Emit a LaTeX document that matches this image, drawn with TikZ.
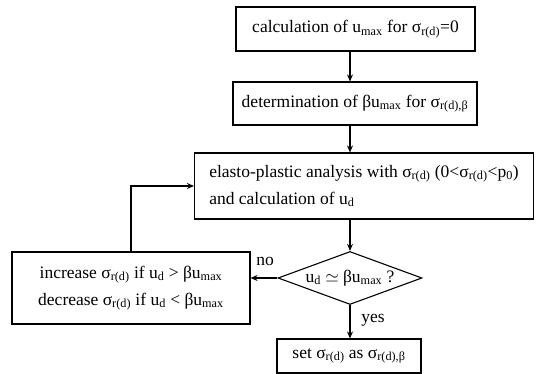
\documentclass[tikz,border=0pt]{standalone}
\usepackage{fontspec}
\setmainfont{Liberation Serif}
\usepackage{tikz}
\usetikzlibrary{positioning,arrows.meta,shapes.geometric}
\newcommand{\sbs}[1]{\textsubscript{#1}}
\newcommand{\sig}{σ\sbs{r(d)}}
\tikzset{
  stepbox/.style = {draw, line width=1.1pt, align=center, inner sep=3pt,
                    font=\fontsize{17.5}{27}\selectfont},
  test/.style    = {draw, line width=1.1pt, diamond, inner sep=0pt, minimum width=144pt,
                    minimum height=53pt},
  flow/.style    = {-{Stealth[length=7pt,width=6pt]}, line width=1.1pt},
  lbl/.style     = {font=\fontsize{17.5}{21}\selectfont},
}
\begin{document}
\begin{tikzpicture}[x=1pt,y=1pt]
\useasboundingbox (0,0) rectangle (539,374);

\node[stepbox, minimum width=239pt, minimum height=44pt] (umax) at (355.5,345)
  {calculation of u\sbs{max} for \sig=0};
\node[stepbox, minimum width=244pt, minimum height=43pt] (bumax) at (355,270.5)
  {determination of βu\sbs{max} for σ\sbs{r(d),β}};
\node[stepbox, minimum width=339pt, minimum height=66pt, align=left] (epa) at (364,188)
  {elasto-plastic analysis with \sig{} (0<\sig<p\sbs{0})\\and calculation of u\sbs{d}};
\node[test, label={[lbl]center:u\sbs{d} $\simeq$ βu\sbs{max} ?}] (chk) at (350,96) {};
\node[stepbox, minimum width=238pt, minimum height=72pt] (adj) at (131,86)
  {increase \sig{} if u\sbs{d} > βu\sbs{max}\\decrease \sig{} if u\sbs{d} < βu\sbs{max}};
\node[stepbox, minimum width=144pt, minimum height=34pt] (set) at (349,18)
  {set \sig{} as σ\sbs{r(d),β}};

\draw[flow] (chk.north |- umax.south) -- (chk.north |- bumax.north);
\draw[flow] (chk.north |- bumax.south) -- (chk.north |- epa.north);
\draw[flow] (chk.north |- epa.south) -- (chk.north);
\draw[flow] (chk.west) -- (adj.east |- chk.west);
\draw[flow] (adj.north) |- (epa.west);
\draw[flow] (chk.south) -- (chk.south |- set.north);

\node[lbl] (no) at (265,113) {no};
\node[lbl] (yes) at (373,54) {yes};

\end{tikzpicture}
\end{document}
